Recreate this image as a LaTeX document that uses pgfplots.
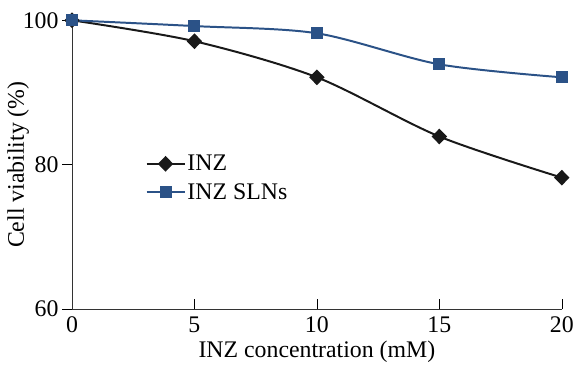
\documentclass[border=0pt]{standalone}
\usepackage{pgfplots}
\pgfplotsset{compat=1.18}
\usepackage{fontspec}
\setmainfont{Liberation Serif}
\definecolor{slnblue}{HTML}{2B5287}
\newcommand{\bigf}{\fontsize{24}{28}\selectfont}
\begin{document}
\begin{tikzpicture}
\begin{axis}[
  scale only axis,
  width=492bp, height=290bp,
  xmin=0, xmax=20, ymin=60, ymax=100,
  axis lines*=left,
  xtick={0,5,10,15,20},
  ytick={60,80,100},
  x tick style={black, line width=0.6pt},
  y tick style={black, line width=0.6pt},
  xtick align=inside, ytick align=outside,
  major tick length=10bp,
  axis line style={line width=0.7pt, black!80},
  tick label style={font=\bigf},
  every tick label/.append style={font=\bigf},
  xticklabel style={yshift=-4bp},
  label style={font=\bigf},
  /pgf/number format/assume math mode=true,
  xlabel={INZ concentration (mM)},
  ylabel={Cell viability (\%)},
  xlabel style={yshift=-2bp},
  ylabel style={yshift=-13bp},
  clip=false,
  legend style={draw=none, fill=none, at={(axis cs:3.0,81.6)}, anchor=north west, font=\bigf, row sep=7bp, inner sep=0pt},
  legend cell align=left,
  legend image code/.code={\draw[mark repeat=2,mark phase=2] plot coordinates {(0bp,0bp) (19bp,0bp) (38bp,0bp)};},
]
\addplot[black!90, line width=2pt, smooth, tension=0.5, mark=diamond*, mark size=6.5bp, mark options={fill=black!90, xscale=1.3}]
  coordinates {(0,100) (5,97.1) (10,92.1) (15,83.9) (20,78.2)};
\addlegendentry{INZ}
\addplot[slnblue, line width=2pt, smooth, tension=0.5, mark=square*, mark size=5bp, mark options={fill=slnblue}]
  coordinates {(0,100) (5,99.2) (10,98.2) (15,93.9) (20,92.1)};
\addlegendentry{INZ SLNs}
\end{axis}
\path ([yshift=9bp]current bounding box.north);
\path ([xshift=-4bp]current bounding box.west);
\end{tikzpicture}
\end{document}
